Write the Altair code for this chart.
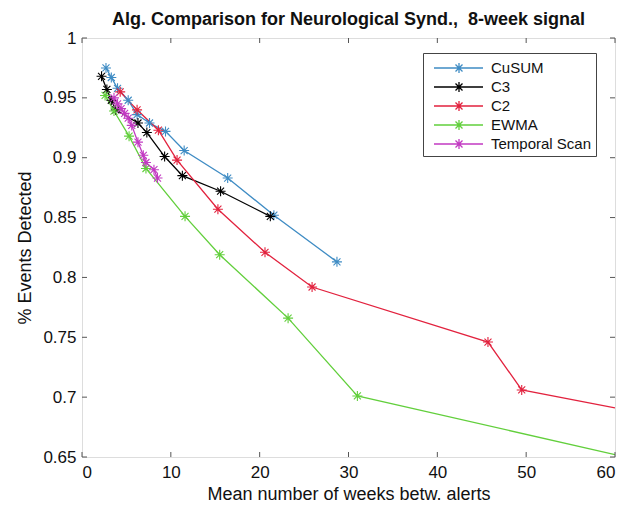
import altair as alt
import pandas as pd

FONT = "Liberation Sans"

series_names = ["CuSUM", "C3", "C2", "EWMA", "Temporal Scan"]
series_colors = ["#3f8cc4", "#000000", "#e2223e", "#62cf3c", "#c23ac2"]

cusum_x = [2.7, 3.3, 4.0, 5.2, 6.2, 7.6, 9.4, 11.5, 16.4, 21.6, 28.7]
cusum_y = [0.975, 0.967, 0.958, 0.948, 0.936, 0.929, 0.922, 0.906, 0.883, 0.852, 0.813]

c3_x = [2.2, 2.8, 3.3, 3.8, 6.3, 7.3, 9.3, 11.3, 15.6, 21.2]
c3_y = [0.968, 0.957, 0.948, 0.940, 0.929, 0.921, 0.901, 0.885, 0.872, 0.851]

c2_x = [4.3, 6.2, 8.6, 10.7, 15.3, 20.6, 25.9, 45.7, 49.5]
c2_y = [0.955, 0.940, 0.923, 0.898, 0.857, 0.821, 0.792, 0.746, 0.706]
c2_end = (60.0, 0.691)

ewma_x = [2.6, 3.6, 5.3, 7.2, 11.6, 15.5, 23.2, 31.0]
ewma_y = [0.952, 0.939, 0.918, 0.891, 0.851, 0.819, 0.766, 0.701]
ewma_end = (60.0, 0.652)

scan_x = [3.6, 4.0, 4.4, 4.8, 5.2, 5.6, 6.3, 6.9, 7.2, 8.1, 8.5]
scan_y = [0.950, 0.945, 0.941, 0.937, 0.933, 0.927, 0.913, 0.902, 0.896, 0.890, 0.883]

x_ticks = [0, 10, 20, 30, 40, 50, 60]
y_ticks = [0.65, 0.7, 0.75, 0.8, 0.85, 0.9, 0.95, 1.0]

rows = []
def add(name, xs, ys, end=None):
    for i, (a, b) in enumerate(zip(xs, ys)):
        rows.append({"series": name, "x": a, "y": b, "order": i, "marker": True})
    if end is not None:
        rows.append({"series": name, "x": end[0], "y": end[1], "order": len(xs), "marker": False})

add("CuSUM", cusum_x, cusum_y)
add("C3", c3_x, c3_y)
add("C2", c2_x, c2_y, c2_end)
add("EWMA", ewma_x, ewma_y, ewma_end)
add("Temporal Scan", scan_x, scan_y)
df = pd.DataFrame(rows)

W, H = 533, 419
xs = alt.Scale(domain=[0, 60], nice=False, zero=False)
ys = alt.Scale(domain=[0.65, 1.0], nice=False, zero=False)
cs = alt.Scale(domain=series_names, range=series_colors)

star = "M-1,0L1,0M0,-1L0,1M-0.7,-0.7L0.7,0.7M-0.7,0.7L0.7,-0.7"
legend_sym = "M-0.4,0H4.5M2.1,-0.5V0.5M1.75,-0.35L2.45,0.35M1.75,0.35L2.45,-0.35"

base = alt.Chart(df)

lines = base.mark_line(strokeWidth=1.3, clip=True).encode(
    x=alt.X("x:Q", scale=xs,
            axis=alt.Axis(values=x_ticks, ticks=False, domain=False, grid=False,
                          labelFont=FONT, labelFontSize=17, labelColor="#111",
                          labelPadding=7, title="Mean number of weeks betw. alerts",
                          titleFont=FONT, titleFontSize=18, titleFontWeight="normal",
                          titleColor="#111", titlePadding=5)),
    y=alt.Y("y:Q", scale=ys,
            axis=alt.Axis(values=y_ticks, ticks=False, domain=False, grid=False,
                          format=".2~f",
                          labelFont=FONT, labelFontSize=17, labelColor="#111",
                          labelPadding=6, title="% Events Detected",
                          titleFont=FONT, titleFontSize=18, titleFontWeight="normal",
                          titleColor="#111", titlePadding=8)),
    color=alt.Color("series:N", scale=cs, sort=series_names,
                    legend=alt.Legend(title=None, orient="none", legendX=341, legendY=15,
                                      symbolType=legend_sym, symbolSize=400,
                                      symbolStrokeWidth=1.3, labelOffset=42,
                                      padding=4, rowPadding=0,
                                      strokeColor="#444", fillColor="white",
                                      labelFont=FONT, labelFontSize=15,
                                      labelColor="#111")),
    order="order:Q",
)

points = base.transform_filter("datum.marker").mark_point(
    shape=star, filled=False, size=100, strokeWidth=1.1, opacity=1, clip=True
).encode(
    x=alt.X("x:Q", scale=xs),
    y=alt.Y("y:Q", scale=ys),
    color=alt.Color("series:N", scale=cs, sort=series_names, legend=None),
)

tick_color = "#555"
xt = pd.DataFrame({"t": x_ticks})
yt = pd.DataFrame({"t": y_ticks})
xb = alt.Chart(xt).mark_rule(color=tick_color, strokeWidth=1).encode(
    x=alt.X("t:Q", scale=xs), y=alt.value(H), y2=alt.value(H - 5))
xtop = alt.Chart(xt).mark_rule(color=tick_color, strokeWidth=1).encode(
    x=alt.X("t:Q", scale=xs), y=alt.value(0), y2=alt.value(5))
yl = alt.Chart(yt).mark_rule(color=tick_color, strokeWidth=1).encode(
    y=alt.Y("t:Q", scale=ys), x=alt.value(0), x2=alt.value(5))
yr = alt.Chart(yt).mark_rule(color=tick_color, strokeWidth=1).encode(
    y=alt.Y("t:Q", scale=ys), x=alt.value(W), x2=alt.value(W - 5))

chart = alt.layer(lines, points, xb, xtop, yl, yr).properties(
    width=W, height=H,
    title=alt.Title("Alg. Comparison for Neurological Synd.,\u00a0 8-week signal",
                    font=FONT, fontSize=18, fontWeight="bold", color="#111",
                    anchor="middle", offset=0),
    autosize=alt.AutoSizeParams(type="none"),
    padding={"left": 82, "top": 38, "right": 17, "bottom": 48},
).configure_view(stroke="#555", strokeWidth=1).configure(background="white")

chart.save("out.html", embed_options={"renderer": "svg", "actions": False})
